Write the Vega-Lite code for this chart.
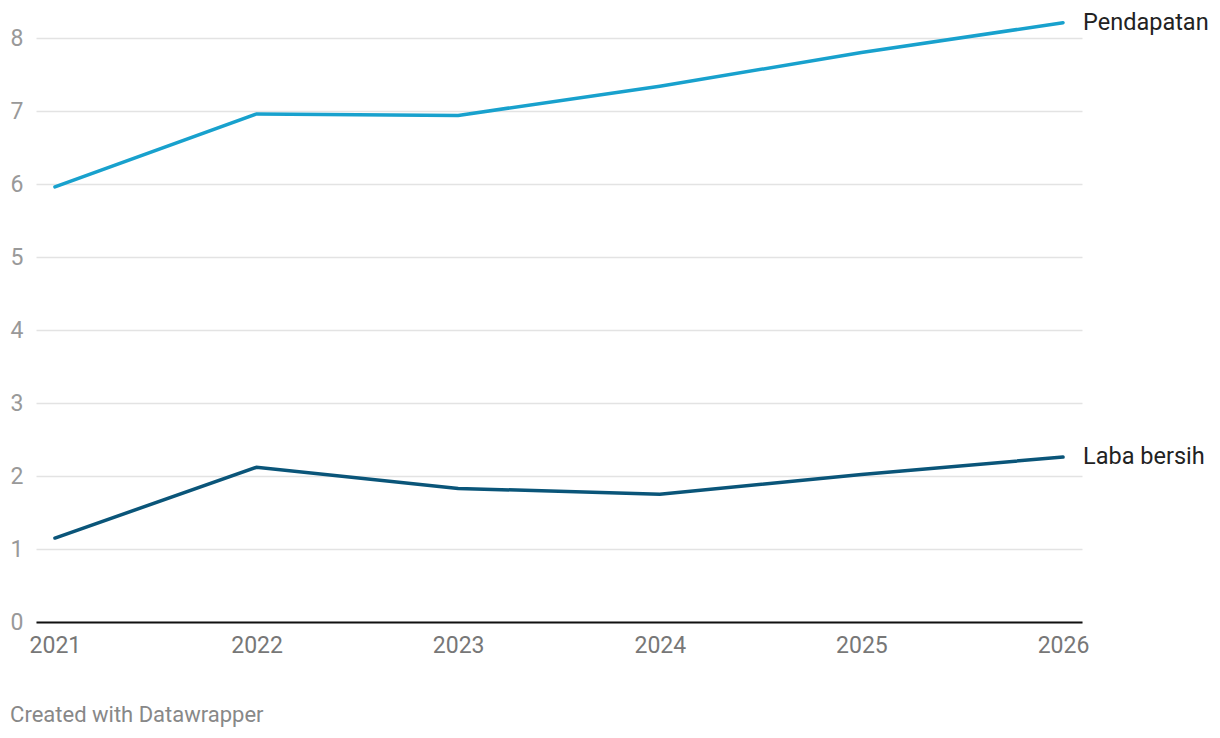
{
  "$schema": "https://vega.github.io/schema/vega-lite/v6.json",
  "width": 1046,
  "height": 584,
  "autosize": "none",
  "padding": {"left": 36, "top": 38, "right": 138, "bottom": 116},
  "background": "white",
  "config": {
    "view": {"stroke": null},
    "font": "Roboto",
    "text": {"font": "Roboto"}
  },
  "title": {
    "text": "Created with Datawrapper",
    "orient": "bottom",
    "anchor": "start",
    "frame": "bounds",
    "dx": 0,
    "offset": 48,
    "font": "Roboto",
    "fontSize": 22,
    "fontWeight": "normal",
    "color": "#888888"
  },
  "data": {
    "values": [
      {"year": "2021", "series": "Pendapatan", "value": 5.96},
      {"year": "2022", "series": "Pendapatan", "value": 6.96},
      {"year": "2023", "series": "Pendapatan", "value": 6.94},
      {"year": "2024", "series": "Pendapatan", "value": 7.34},
      {"year": "2025", "series": "Pendapatan", "value": 7.80},
      {"year": "2026", "series": "Pendapatan", "value": 8.21},
      {"year": "2021", "series": "Laba bersih", "value": 1.15},
      {"year": "2022", "series": "Laba bersih", "value": 2.12},
      {"year": "2023", "series": "Laba bersih", "value": 1.83},
      {"year": "2024", "series": "Laba bersih", "value": 1.75},
      {"year": "2025", "series": "Laba bersih", "value": 2.02},
      {"year": "2026", "series": "Laba bersih", "value": 2.26}
    ]
  },
  "encoding": {
    "x": {
      "field": "year",
      "type": "ordinal",
      "scale": {"type": "point", "padding": 0.094},
      "axis": {
        "title": null,
        "labelAngle": 0,
        "labelFont": "Roboto",
        "labelFontSize": 23,
        "labelColor": "#777777",
        "labelPadding": 12,
        "ticks": false,
        "domain": true,
        "domainColor": "#111111",
        "domainWidth": 2,
        "grid": false
      }
    },
    "y": {
      "field": "value",
      "type": "quantitative",
      "scale": {"domain": [0, 8], "nice": false},
      "axis": {
        "title": null,
        "values": [0, 1, 2, 3, 4, 5, 6, 7, 8],
        "labelFont": "Roboto",
        "labelFontSize": 23,
        "labelColor": "#999999",
        "labelPadding": 13,
        "ticks": false,
        "domain": false,
        "grid": true,
        "gridColor": "#e3e3e3",
        "gridWidth": 1.5
      }
    },
    "color": {
      "field": "series",
      "type": "nominal",
      "scale": {"domain": ["Pendapatan", "Laba bersih"], "range": ["#18a1cd", "#0a5579"]},
      "legend": null
    }
  },
  "layer": [
    {
      "mark": {"type": "line", "strokeWidth": 3.5, "clip": false, "strokeCap": "round"}
    },
    {
      "transform": [{"filter": "datum.year == '2026'"}],
      "mark": {"type": "text", "align": "left", "baseline": "middle", "dx": 20, "fontSize": 23.5, "font": "Roboto", "color": "#222222"},
      "encoding": {
        "text": {"field": "series"},
        "color": {"value": "#222222"}
      }
    }
  ]
}
